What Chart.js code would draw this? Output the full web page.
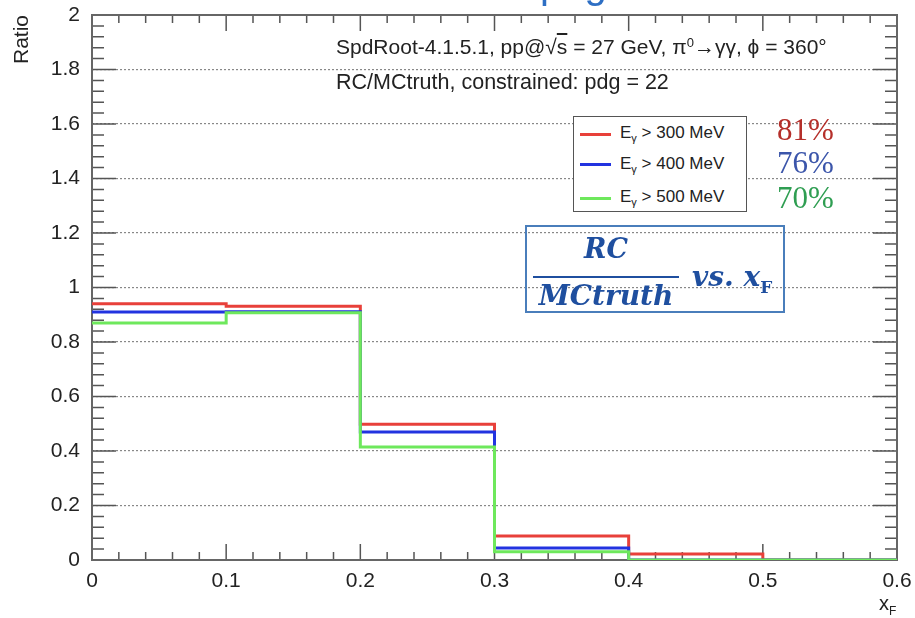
<!DOCTYPE html>
<html>
<head>
<meta charset="utf-8">
<script src="https://cdn.jsdelivr.net/npm/chart.js@4"></script>
<style>
  html, body { margin: 0; padding: 0; background: #fff; }
  #wrap { position: relative; width: 915px; height: 618px; overflow: hidden; font-family: "Liberation Sans", Arial, sans-serif; }
  #chart { position: absolute; left: 0; top: 0; }
  .txt { position: absolute; white-space: nowrap; color: #222; }
  .pct { position: absolute; font-family: "Liberation Serif", serif; font-size: 31px; }
  .leg-row { position: absolute; left: 0; font-size: 17px; color: #222; }
  .leg-line { position: absolute; width: 31px; height: 3px; }
  .up { position: relative; top: -0.55em; font-size: 13px; vertical-align: baseline; }
</style>
</head>
<body>
<div id="wrap">
  <canvas id="chart" width="915" height="618"></canvas>

  <!-- clipped slide title above the frame -->
  <div class="txt" style="left:540px; top:-38px; font-size:40px; color:#2e6fc4;">pdg</div>

  <div class="txt" style="left:336px; top:37px; font-size:21px; line-height:20px;">SpdRoot-4.1.5.1, pp@&#8730;<span style="text-decoration:overline">s</span> = 27 GeV, &#960;<span class="up">0</span>&#8594;&#947;&#947;, &#981; = 360&#176;</div>
  <div class="txt" style="left:336px; top:72px; font-size:21.5px; line-height:20px;">RC/MCtruth, constrained: pdg = 22</div>

  <!-- legend -->
  <div id="legend" style="position:absolute; left:573px; top:116px; width:172px; height:94px; border:1.5px solid #555; background:#fff;">
    <div class="leg-line" style="left:6px; top:16px; background:#e8403a;"></div>
    <div class="leg-row" style="left:46px; top:6px;">E<sub style="font-size:11px">&#947;</sub> &gt; 300 MeV</div>
    <div class="leg-line" style="left:6px; top:46px; background:#2233e0;"></div>
    <div class="leg-row" style="left:46px; top:37px;">E<sub style="font-size:11px">&#947;</sub> &gt; 400 MeV</div>
    <div class="leg-line" style="left:6px; top:80px; background:#6ee85c;"></div>
    <div class="leg-row" style="left:46px; top:70px;">E<sub style="font-size:11px">&#947;</sub> &gt; 500 MeV</div>
  </div>
  <div class="pct" style="left:777px; top:112px; color:#b52f2a;">81%</div>
  <div class="pct" style="left:777px; top:145px; color:#3b55aa;">76%</div>
  <div class="pct" style="left:777px; top:180px; color:#2f9e52;">70%</div>

  <!-- formula box -->
  <div style="position:absolute; left:525px; top:225px; width:256px; height:84px; border:2px solid #4a7ebb; color:#1f4f9f; font-family:'DejaVu Serif', serif; font-style:italic; font-weight:bold;">
    <div style="position:absolute; left:6px; top:6px; width:146px; text-align:center; font-size:27px;">RC</div>
    <div style="position:absolute; left:6px; top:49px; width:146px; height:2px; background:#1f4f9f;"></div>
    <div style="position:absolute; left:6px; top:52px; width:146px; text-align:center; font-size:28px;">MCtruth</div>
    <div style="position:absolute; left:165px; top:33px; font-size:28px;">vs. x<sub style="font-size:17px; font-style:normal">F</sub></div>
  </div>

  <div class="txt" style="left:879px; top:592px; font-size:20px;">x<sub style="font-size:12px">F</sub></div>
</div>

<script>
// ===== Data =====
const binEdges = [0, 0.1, 0.2, 0.3, 0.4, 0.5, 0.6];
const ratio300 = [0.940, 0.931, 0.498, 0.088, 0.022, 0];
const ratio400 = [0.910, 0.911, 0.470, 0.044, 0.000, 0];
const ratio500 = [0.870, 0.907, 0.415, 0.030, 0.000, 0];
const seriesLabels = ["E\u03b3 > 300 MeV", "E\u03b3 > 400 MeV", "E\u03b3 > 500 MeV"];
const seriesColors = ["#e8403a", "#2233e0", "#6ee85c"];
const yTicks = [0, 0.2, 0.4, 0.6, 0.8, 1, 1.2, 1.4, 1.6, 1.8, 2];
const xTicks = [0, 0.1, 0.2, 0.3, 0.4, 0.5, 0.6];

// histogram -> step points (last bin carried to the upper edge)
function histPoints(vals) {
  const pts = vals.map((v, i) => ({ x: binEdges[i], y: v }));
  pts.push({ x: binEdges[binEdges.length - 1], y: vals[vals.length - 1] });
  return pts;
}

const fmt = v => String(Number(v.toFixed(2)));

// ===== ROOT style frame with inner ticks =====
const rootFrame = {
  id: "rootFrame",
  beforeDatasetsDraw(chart) {
    const { ctx, chartArea: a, scales: { x, y } } = chart;
    ctx.save();
    ctx.strokeStyle = "#555";
    ctx.lineWidth = 1.5;
    ctx.beginPath();
    // y ticks, 5 subdivisions
    for (let i = 0; i <= 50; i++) {
      const py = y.getPixelForValue(i * 0.04);
      const len = i % 5 === 0 ? 24 : 12;
      ctx.moveTo(a.left, py); ctx.lineTo(a.left + len, py);
      ctx.moveTo(a.right, py); ctx.lineTo(a.right - len, py);
    }
    // x ticks
    for (let i = 0; i <= 30; i++) {
      const px = x.getPixelForValue(i * 0.02);
      const len = i % 5 === 0 ? 16 : 8;
      ctx.moveTo(px, a.bottom); ctx.lineTo(px, a.bottom - len);
      ctx.moveTo(px, a.top); ctx.lineTo(px, a.top + len);
    }
    ctx.stroke();
    ctx.lineWidth = 2;
    ctx.strokeStyle = "#666";
    ctx.strokeRect(a.left, a.top, a.right - a.left, a.bottom - a.top);
    ctx.restore();
  }
};

new Chart(document.getElementById("chart"), {
  type: "line",
  data: {
    datasets: [ratio300, ratio400, ratio500].map((vals, i) => ({
      label: seriesLabels[i],
      data: histPoints(vals),
      borderColor: seriesColors[i],
      borderWidth: 3,
      stepped: true,
      pointRadius: 0,
      fill: false,
      order: 3 - i
    }))
  },
  options: {
    responsive: false,
    animation: false,
    layout: { padding: { left: 0, top: 15, right: 18, bottom: 0 } },
    plugins: { legend: { display: false }, tooltip: { enabled: false } },
    scales: {
      x: {
        type: "linear",
        min: 0, max: 0.6,
        afterBuildTicks: s => { s.ticks = xTicks.map(v => ({ value: v })); },
        afterFit: s => { s.height = 58; s.paddingRight = 0; s.paddingLeft = 0; },
        grid: { display: false, drawTicks: false },
        border: { display: false },
        ticks: { padding: 9, color: "#222", font: { family: "Liberation Sans", size: 21 }, maxRotation: 0, callback: fmt }
      },
      y: {
        min: 0, max: 2,
        afterBuildTicks: s => { s.ticks = yTicks.map(v => ({ value: v })); },
        afterFit: s => { s.width = 92; s.paddingTop = 0; s.paddingBottom = 0; },
        grid: {
          drawTicks: false,
          color: ctx => (ctx.tick && (ctx.tick.value === 0 || ctx.tick.value === 2)) ? "rgba(0,0,0,0)" : "#888",
          lineWidth: 1.2,
          borderDash: [2, 2]
        },
        border: { display: false, dash: [2, 2] },
        ticks: { padding: 12, color: "#222", font: { family: "Liberation Sans", size: 21 }, callback: fmt },
        title: { display: true, text: "Ratio", align: "end", color: "#222", font: { family: "Liberation Sans", size: 21 }, padding: { top: 10, bottom: 0 } }
      }
    }
  },
  plugins: [rootFrame]
});
</script>
</body>
</html>
